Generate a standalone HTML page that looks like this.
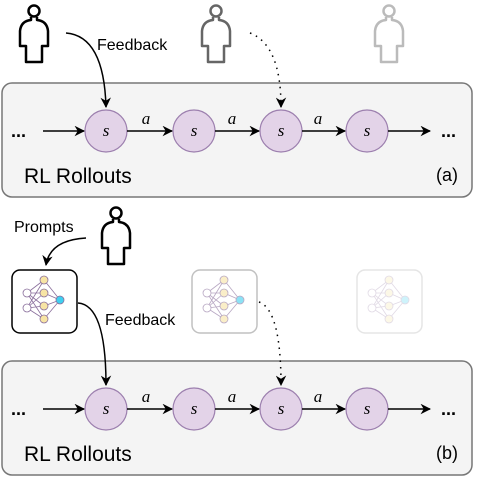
<!DOCTYPE html>
<html><head><style>body{margin:0;background:#fff}svg{display:block}</style></head><body>
<svg width="480" height="480" viewBox="0 0 480 480" xmlns="http://www.w3.org/2000/svg" font-family="Liberation Sans, sans-serif">
<defs>
<marker id="ah" viewBox="0 0 10 10" refX="9" refY="5" markerWidth="7" markerHeight="7" orient="auto"><path d="M0,0 L10,5 L0,10 L3,5z" fill="#000"/></marker>
<g id="person"><circle cx="0" cy="-23" r="5.5" fill="none" stroke-width="2.5"/><path d="M-3,-17 L-3,-14 Q-13,-13 -14,-3 L-14,12 L-8,12 L-8,28 L8,28 L8,12 L14,12 L14,-3 Q13,-13 3,-14 L3,-17" fill="none" stroke-width="2.5" stroke-linejoin="round"/></g>
<g id="nn" stroke="#8a6f9c" stroke-width="0.8">
<g fill="none">
<path d="M-17,-7 L0,-20 M-17,-7 L0,-7 M-17,-7 L0,6 M-17,-7 L0,19 M-17,8 L0,-20 M-17,8 L0,-7 M-17,8 L0,6 M-17,8 L0,19 M0,-20 L16,0 M0,-7 L16,0 M0,6 L16,0 M0,19 L16,0"/></g>
<circle cx="-17" cy="-7" r="4" fill="#fff"/><circle cx="-17" cy="8" r="4" fill="#fff"/>
<circle cx="0" cy="-20" r="4" fill="#f7e4a4"/><circle cx="0" cy="-7" r="4" fill="#f7e4a4"/><circle cx="0" cy="6" r="4" fill="#f7e4a4"/><circle cx="0" cy="19" r="4" fill="#f7e4a4"/>
<circle cx="16" cy="0" r="4" fill="#3fd0f0"/></g>
<g id="chain">
<rect x="2" y="-48" width="470" height="114" rx="10" fill="#f4f4f4" stroke="#777" stroke-width="1.5"/>
<g fill="#e3d3e8" stroke="#9c7fae" stroke-width="1.2">
<circle cx="106" cy="0" r="21"/><circle cx="194" cy="0" r="21"/><circle cx="281" cy="0" r="21"/><circle cx="367" cy="0" r="21"/></g>
<g stroke="#000" stroke-width="1.5" marker-end="url(#ah)">
<line x1="43" y1="0" x2="84" y2="0"/><line x1="127" y1="0" x2="172" y2="0"/><line x1="215" y1="0" x2="259" y2="0"/><line x1="302" y1="0" x2="345" y2="0"/><line x1="388" y1="0" x2="430" y2="0"/></g>
<g font-family="Liberation Serif, serif" font-style="italic" font-size="17" text-anchor="middle">
<text x="106" y="5">s</text><text x="194" y="5">s</text><text x="281" y="5">s</text><text x="367" y="5">s</text>
<text x="146" y="-7">a</text><text x="232" y="-7">a</text><text x="318" y="-7">a</text></g>
<text x="11" y="6" font-size="18" font-weight="bold">...</text><text x="441" y="6" font-size="18" font-weight="bold">...</text>
<text x="24" y="52" font-size="21">RL Rollouts</text>
</g>
</defs>
<!-- top -->
<use href="#person" x="34" y="34" stroke="#000"/>
<use href="#person" x="216" y="34" stroke="#666"/>
<use href="#person" x="389" y="34" stroke="#bbb"/>
<g transform="translate(0,131)"><use href="#chain"/><text x="436" y="50" font-size="18">(a)</text></g>
<text x="97" y="50" font-size="16">Feedback</text>
<path d="M66,33 Q104,36 106,107" fill="none" stroke="#000" stroke-width="1.5" marker-end="url(#ah)"/>
<path d="M250,33 Q281,45 281,107" fill="none" stroke="#000" stroke-width="1.5" stroke-dasharray="1.5,5" marker-end="url(#ah)"/>
<!-- bottom -->
<g transform="translate(0,409)"><use href="#chain"/><text x="436" y="50" font-size="18">(b)</text></g>
<text x="14" y="232" font-size="16">Prompts</text>
<use href="#person" x="116" y="236" stroke="#000"/>
<path d="M86,238 Q50,240 46,265" fill="none" stroke="#000" stroke-width="1.5" marker-end="url(#ah)"/>
<rect x="12" y="270" width="65" height="63" rx="8" fill="#fff" stroke="#000" stroke-width="1.5"/>
<use href="#nn" x="44" y="300"/>
<g opacity="0.6"><rect x="192" y="270" width="65" height="63" rx="8" fill="#fff" stroke="#999" stroke-width="1.5"/><use href="#nn" x="224" y="300"/></g>
<g opacity="0.25"><rect x="357" y="270" width="65" height="63" rx="8" fill="#fff" stroke="#999" stroke-width="1.5"/><use href="#nn" x="389" y="300"/></g>
<text x="105" y="325" font-size="16">Feedback</text>
<path d="M78,303 Q106,305 106,385" fill="none" stroke="#000" stroke-width="1.5" marker-end="url(#ah)"/>
<path d="M259,302 Q281,310 281,385" fill="none" stroke="#000" stroke-width="1.5" stroke-dasharray="1.5,5" marker-end="url(#ah)"/>
</svg>
</body></html>
